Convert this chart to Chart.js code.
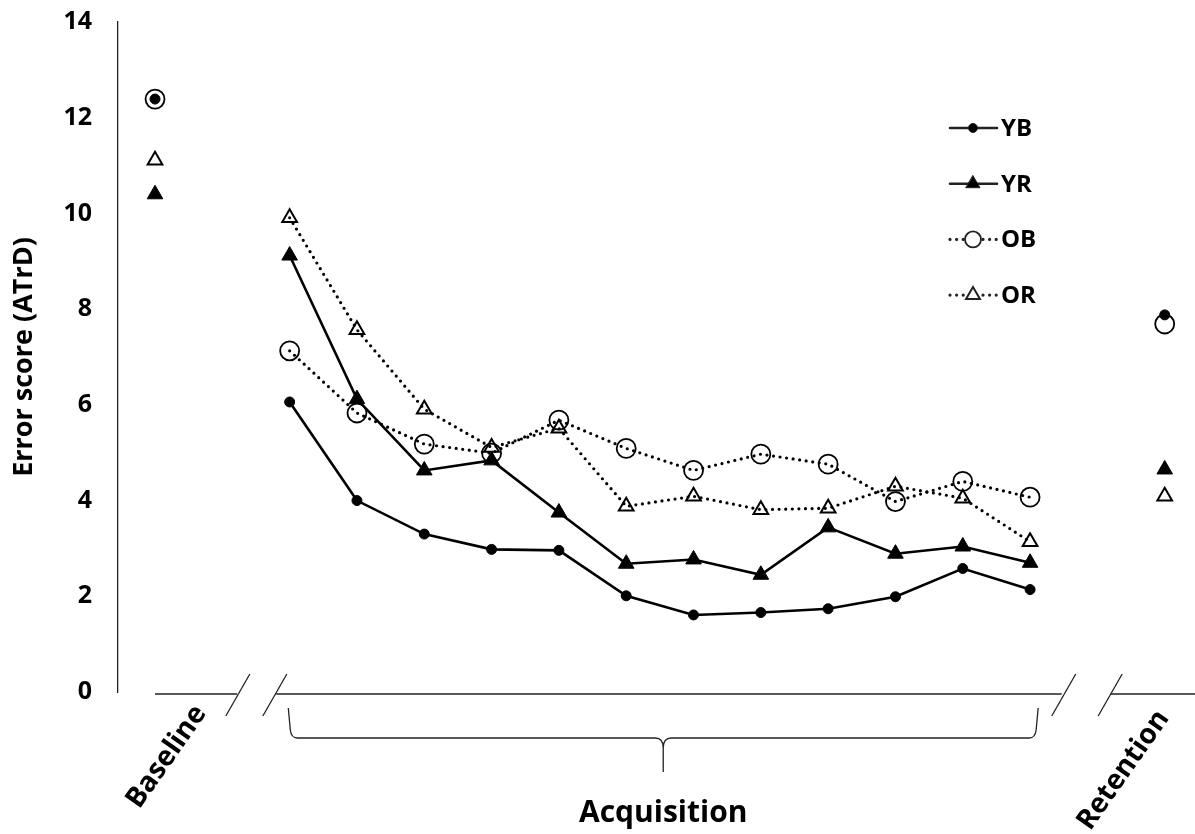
<!DOCTYPE html>
<html>
<head>
<meta charset="utf-8">
<script src="https://cdn.jsdelivr.net/npm/chart.js@4/dist/chart.umd.min.js"></script>
<style>
  html, body { margin: 0; background: #fff; overflow: hidden; }
  canvas { display: block; }
</style>
</head>
<body>
<canvas id="errChart" width="1195" height="834"></canvas>
<script>
// phase labels and groups
const phases = ['Baseline', 'Acquisition', 'Retention'];
const groups = ['YB', 'YR', 'OB', 'OR'];
const yTicks = [0, 2, 4, 6, 8, 10, 12, 14];

// baseline / retention values, order YB, YR, OB, OR
const baselineVals = [12.39, 10.40, 12.39, 11.11];
const retentionVals = [7.88, 4.65, 7.69, 4.09];

// acquisition blocks 1..12
const ybAcq = [6.06, 4.00, 3.30, 2.98, 2.96, 2.01, 1.61, 1.66, 1.74, 1.99, 2.58, 2.14];
const yrAcq = [9.12, 6.12, 4.63, 4.84, 3.75, 2.68, 2.77, 2.45, 3.44, 2.89, 3.04, 2.70];
const obAcq = [7.13, 5.83, 5.18, 4.99, 5.68, 5.09, 4.63, 4.97, 4.76, 3.98, 4.40, 4.07];
const orAcq = [9.91, 7.57, 5.91, 5.11, 5.51, 3.88, 4.09, 3.81, 3.84, 4.30, 4.05, 3.14];

const acqSeries = [ybAcq, yrAcq, obAcq, orAcq];

// slot 0 = baseline, 2..13 = acquisition, 15 = retention (1 and 14 are the axis breaks)
function buildData(g) {
    const pts = [{ x: 0, y: baselineVals[g] }, { x: 1, y: null }];
    acqSeries[g].forEach((v, i) => pts.push({ x: i + 2, y: v }));
    pts.push({ x: 14, y: null });
    pts.push({ x: 15, y: retentionVals[g] });
    return pts;
}

const FONT = '"Open Sans", "DejaVu Sans", sans-serif';
const dotted = [0, 6.6];

const styles = [
    { style: 'circle', r: 5, fill: '#000', dash: [], lw: 2.6, pbw: 1 },
    { style: 'triangle', r: 9, fill: '#000', dash: [], lw: 2.6, pbw: 1 },
    { style: 'circle', r: 9.5, fill: 'rgba(0,0,0,0)', dash: dotted, lw: 3.2, pbw: 1.8 },
    { style: 'triangle', r: 8.5, fill: 'rgba(0,0,0,0)', dash: dotted, lw: 3.2, pbw: 2 }
];

const datasets = groups.map((name, g) => ({
    label: name,
    data: buildData(g),
    borderColor: '#000',
    backgroundColor: styles[g].fill,
    borderWidth: styles[g].lw,
    borderDash: styles[g].dash,
    borderCapStyle: 'round',
    pointStyle: styles[g].style,
    pointRadius: styles[g].r,
    pointBorderWidth: styles[g].pbw,
    pointBorderColor: '#000',
    pointBackgroundColor: styles[g].fill,
    spanGaps: false,
    clip: false,
    tension: 0
}));

// broken x axis, brace, phase labels and legend
const decorPlugin = {
    id: 'decor',
    afterDraw(chart) {
        const ctx = chart.ctx;
        const xs = chart.scales.x;
        const ys = chart.scales.y;
        const px = v => xs.getPixelForValue(v);
        const y0 = ys.getPixelForValue(0) + 2;

        ctx.save();
        ctx.strokeStyle = '#222';
        ctx.lineWidth = 1.3;

        // axis segments
        const segs = [[0, 1.22], [1.8, 13.47], [14.2, 15.45]];
        segs.forEach(s => {
            ctx.beginPath();
            ctx.moveTo(px(s[0]), y0);
            ctx.lineTo(Math.min(px(s[1]), chart.width), y0);
            ctx.stroke();
        });
        // break slashes
        [1.23, 1.78, 13.5, 14.19].forEach(v => {
            const cx = px(v);
            ctx.beginPath();
            ctx.moveTo(cx - 12, y0 + 22);
            ctx.lineTo(cx + 12, y0 - 20);
            ctx.stroke();
        });

        // brace under acquisition
        const bl = px(1.98), br = px(13.12), mid = (bl + br) / 2;
        const top = y0 + 14, hy = y0 + 44, tip = y0 + 78;
        ctx.beginPath();
        ctx.moveTo(bl, top);
        ctx.lineTo(bl + 2, hy - 8);
        ctx.quadraticCurveTo(bl + 3, hy, bl + 9, hy);
        ctx.lineTo(mid - 8, hy);
        ctx.quadraticCurveTo(mid, hy, mid, hy + 10);
        ctx.lineTo(mid, tip);
        ctx.moveTo(mid, hy + 10);
        ctx.quadraticCurveTo(mid, hy, mid + 8, hy);
        ctx.lineTo(br - 9, hy);
        ctx.quadraticCurveTo(br - 3, hy, br - 2, hy - 8);
        ctx.lineTo(br, top);
        ctx.stroke();

        // phase labels
        ctx.fillStyle = '#000';
        ctx.font = 'bold 30px ' + FONT;
        ctx.textAlign = 'center';
        ctx.textBaseline = 'alphabetic';
        ctx.fillText(phases[1], mid, y0 + 128);

        ctx.font = 'bold 28px ' + FONT;
        ctx.textAlign = 'right';
        [[phases[0], px(0) + 52, y0 + 19], [phases[2], px(15) + 5, y0 + 24]].forEach(t => {
            ctx.save();
            ctx.translate(t[1], t[2]);
            ctx.rotate(-55 * Math.PI / 180);
            ctx.fillText(t[0], 0, 0);
            ctx.restore();
        });

        // legend: line - marker - line
        chart.data.datasets.forEach((ds, i) => {
            const ly = 128 + i * 55.7;
            const lx0 = 950, lx1 = 997, mx = 973;
            ctx.save();
            ctx.lineWidth = ds.borderWidth;
            ctx.setLineDash(ds.borderDash);
            ctx.lineCap = 'round';
            ctx.beginPath();
            if (ds.borderDash.length) {
                ctx.moveTo(lx0, ly); ctx.lineTo(mx - 9, ly);
                ctx.moveTo(mx + 10, ly); ctx.lineTo(lx1, ly);
            } else {
                ctx.moveTo(lx0, ly); ctx.lineTo(lx1, ly);
            }
            ctx.stroke();
            ctx.setLineDash([]);
            ctx.lineWidth = ds.pointBorderWidth;
            const r = 8;
            ctx.beginPath();
            if (ds.pointStyle === 'circle') {
                ctx.arc(mx, ly, ds.pointRadius > 6 ? 8 : 4.5, 0, Math.PI * 2);
            } else {
                ctx.moveTo(mx, ly - r);
                ctx.lineTo(mx + r * 0.87, ly + r * 0.5);
                ctx.lineTo(mx - r * 0.87, ly + r * 0.5);
                ctx.closePath();
            }
            if (ds.backgroundColor === '#000') { ctx.fill(); }
            ctx.stroke();
            ctx.restore();

            ctx.font = 'bold 24px ' + FONT;
            ctx.textAlign = 'left';
            ctx.textBaseline = 'middle';
            ctx.fillText(ds.label, 1001, ly + 1);
        });
        ctx.restore();
    }
};

new Chart(document.getElementById('errChart'), {
    type: 'line',
    data: { datasets: datasets },
    options: {
        responsive: false,
        animation: false,
        layout: { autoPadding: false, padding: { top: 22, bottom: 142, left: 0, right: 0 } },
        plugins: { legend: { display: false }, tooltip: { enabled: false } },
        scales: {
            x: {
                type: 'linear',
                display: false,
                min: -0.55,
                max: 15.45
            },
            y: {
                min: 0,
                max: 14,
                afterFit: s => { s.width = 118; s.paddingTop = 0; s.paddingBottom = 0; },
                afterBuildTicks: s => { s.ticks = yTicks.map(v => ({ value: v })); },
                grid: { display: false, drawTicks: false },
                border: { display: true, color: '#222', width: 1.3 },
                ticks: {
                    color: '#000',
                    padding: 26,
                    font: { family: FONT, size: 25, weight: 'bold' }
                },
                title: {
                    display: true,
                    text: 'Error score (ATrD)',
                    color: '#000',
                    padding: { top: 8, bottom: 0 },
                    font: { family: FONT, size: 27, weight: 'bold' }
                }
            }
        }
    },
    plugins: [decorPlugin]
});
</script>
</body>
</html>
